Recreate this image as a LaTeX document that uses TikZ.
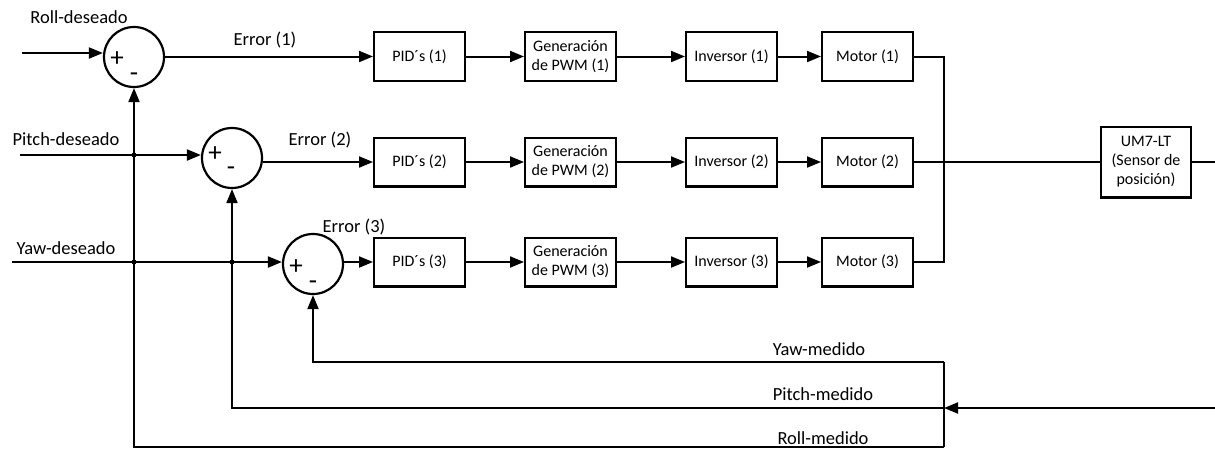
\documentclass[tikz,border=0pt]{standalone}
\usepackage{fontspec}
\setmainfont{Carlito}
\usetikzlibrary{arrows.meta, positioning}

\begin{document}
\begin{tikzpicture}[
  x=1pt, y=-1pt,
  font=\fontsize{18.5}{22}\selectfont,
  block/.style={
    rectangle, draw, line width=2.4pt,
    minimum width=90.6pt, minimum height=48.6pt,
    align=center, inner sep=2pt, font=\fontsize{16}{19}\selectfont
  },
  sum/.style={circle, draw, line width=2.2pt, minimum size=60pt, inner sep=0pt},
  lbl/.style={inner sep=0pt},
  sig/.style={inner sep=0pt, font=\fontsize{27}{27}\selectfont},
  wire/.style={line width=2pt},
  arr/.style={wire, -{Triangle[length=14pt, width=11pt]}},
  dot/.style={circle, fill, inner sep=0pt, minimum size=5pt}
]
\useasboundingbox (0,0) rectangle (1215,448);

\node[sum] (sum1) at (134,57) {};
\node[sum] (sum2) at (232,158) {};
\node[sum] (sum3) at (313,264) {};
\node[sig] (plus1) at (117,59) {+};
\node[sig] (minus1) at (134,77) {-};
\node[sig] (plus2) at (215,154) {+};
\node[sig] (minus2) at (231,171) {-};
\node[sig] (plus3) at (296,267) {+};
\node[sig] (minus3) at (313,285) {-};

\node[block] (pid1) at (419.5,56.5) {PID´s (1)};
\node[block, right=58pt of pid1] (gen1) {Generación\\de PWM (1)};
\node[block, right=68pt of gen1] (inv1) {Inversor (1)};
\node[block, right=43pt of inv1] (mot1) {Motor (1)};

\node[block] (pid2) at (419.5,162) {PID´s (2)};
\node[block, right=58pt of pid2] (gen2) {Generación\\de PWM (2)};
\node[block, right=68pt of gen2] (inv2) {Inversor (2)};
\node[block, right=43pt of inv2] (mot2) {Motor (2)};

\node[block] (pid3) at (419.5,262) {PID´s (3)};
\node[block, right=58pt of pid3] (gen3) {Generación\\de PWM (3)};
\node[block, right=68pt of gen3] (inv3) {Inversor (3)};
\node[block, right=43pt of inv3] (mot3) {Motor (3)};

\node[block, minimum width=89.6pt, minimum height=70.6pt] (um7) at (1146,162) {UM7-LT\\(Sensor de\\posición)};

\node[lbl] (rolld) at (79,17) {Roll-deseado};
\node[lbl] (pitchd) at (66,139) {Pitch-deseado};
\node[lbl] (yawd) at (66,248) {Yaw-deseado};
\node[lbl] (err1) at (265,40) {Error (1)};
\node[lbl] (err2) at (320,140) {Error (2)};
\node[lbl] (err3) at (354,227) {Error (3)};
\node[lbl] (yawm) at (819,349) {Yaw-medido};
\node[lbl] (pitchm) at (823,394) {Pitch-medido};
\node[lbl] (rollm) at (823,438) {Roll-medido};

\coordinate (rollin) at (22,53);
\coordinate (pitchin) at (20,155);
\coordinate (yawin) at (12,262);
\coordinate (bus) at (944,0);
\coordinate (sensout) at (1215,162);
\coordinate (fbin) at (1215,408);
\coordinate (yawfb) at (944,362);
\coordinate (rollfb) at (944,446.5);

\draw[arr] (rollin) -- (rollin -| sum1.west);
\draw[arr] (pitchin) -- (pitchin -| sum2.west);
\draw[arr] (yawin) -- (yawin -| sum3.west);

\draw[arr] (sum1.east |- pid1) -- (pid1);
\draw[arr] (sum2.east |- pid2) -- (pid2);
\draw[arr] (sum3.east |- pid3) -- (pid3);

\draw[arr] (pid1) -- (gen1);
\draw[arr] (gen1) -- (inv1);
\draw[arr] (inv1) -- (mot1);
\draw[arr] (pid2) -- (gen2);
\draw[arr] (gen2) -- (inv2);
\draw[arr] (inv2) -- (mot2);
\draw[arr] (pid3) -- (gen3);
\draw[arr] (gen3) -- (inv3);
\draw[arr] (inv3) -- (mot3);

\draw[wire] (mot1) -- (mot1 -| bus) -- (mot3 -| bus) -- (mot3);
\draw[wire] (mot2) -- (um7);
\draw[wire] (um7) -- (sensout);

\draw[arr] (fbin) -- (fbin -| bus);
\draw[wire] (rollfb) -- (yawfb);
\draw[arr] (yawfb) -| (sum3);
\draw[arr] (fbin -| bus) -| (sum2);
\draw[arr] (rollfb) -| (sum1);

\node[dot] (j1) at (134,155) {};
\node[dot] (j2) at (134,262) {};
\node[dot] (j3) at (232,262) {};

\end{tikzpicture}
\end{document}
